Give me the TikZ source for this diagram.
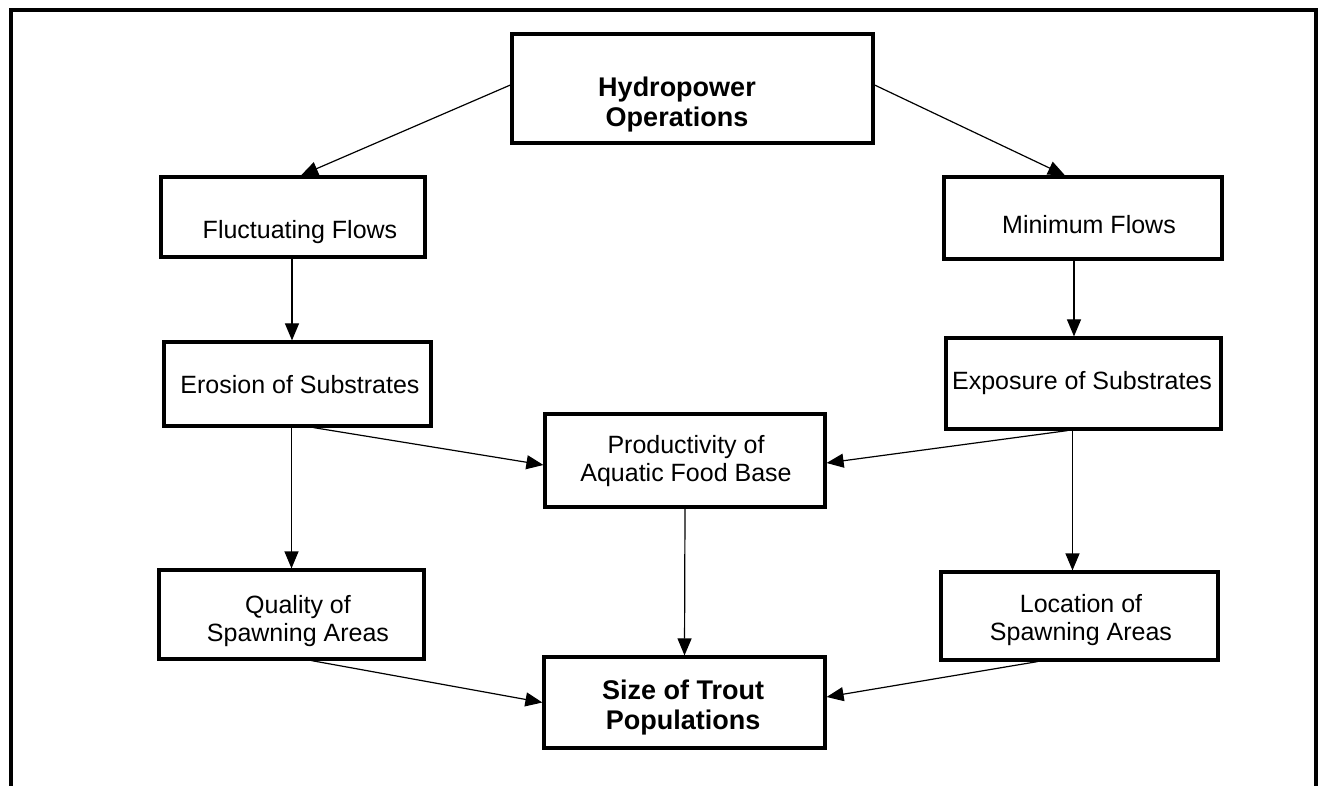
\documentclass[tikz,border=0pt]{standalone}
\usepackage{fontspec}
\setmainfont{Liberation Sans}
\usetikzlibrary{arrows.meta,calc}
\tikzset{
  box/.style={draw=black, line width=1.6pt, rectangle, inner sep=0pt},
  txt/.style={align=center, inner sep=0pt, font=\fontsize{12.5}{14}\selectfont},
  btxt/.style={align=center, inner sep=0pt, font=\fontsize{13.5}{15}\selectfont\bfseries},
  conn/.style={draw=black, line width=0.6pt, -{Triangle[length=8.5pt,width=7pt]}},
  frame/.style={draw=black, line width=1.6pt}
}
\begin{document}
\begin{tikzpicture}[x=0.5pt,y=-0.5pt]
\useasboundingbox (0,0) rectangle (1324,786);
% outer frame
\coordinate (fbl) at (11,790);
\coordinate (ftl) at (11,10);
\coordinate (ftr) at (1316,10);
\coordinate (fbr) at (1316,790);
\draw[frame] (fbl) -- (ftl) -- (ftr) -- (fbr);
% boxes
\node[box, minimum width=180.5pt, minimum height=54.5pt] (hydro) at (692.5,88.5) {};
\node[box, minimum width=132pt, minimum height=40pt] (fluct) at (293,217) {};
\node[box, minimum width=139pt, minimum height=41pt] (minf) at (1083,218) {};
\node[box, minimum width=133.5pt, minimum height=42pt] (eros) at (297.5,384) {};
\node[box, minimum width=137.5pt, minimum height=45.5pt] (expo) at (1083.5,383.5) {};
\node[box, minimum width=140pt, minimum height=46.5pt] (prod) at (685,460.5) {};
\node[box, minimum width=132.5pt, minimum height=44.5pt] (qual) at (291.5,614.5) {};
\node[box, minimum width=138.5pt, minimum height=44pt] (loc) at (1079.5,616) {};
\node[box, minimum width=140.5pt, minimum height=45.5pt] (size) at (684.5,702.5) {};
% texts
\node[btxt] (thydro) at (677,105) {Hydropower\\Operations};
\node[txt] (tfluct) at (300,232) {Fluctuating Flows};
\node[txt] (tminf) at (1089,225) {Minimum Flows};
\node[txt] (teros) at (300,385) {Erosion of Substrates};
\node[txt] (texpo) at (1082,383) {Exposure of Substrates};
\node[txt] (tprod) at (686,461) {Productivity of\\Aquatic Food Base};
\node[txt] (tqual) at (298,621) {Quality of\\Spawning Areas};
\node[txt] (tloc) at (1081,620) {Location of\\Spawning Areas};
\node[btxt] (tsize) at (683,708) {Size of Trout\\Populations};
% connectors
\draw[conn] ([yshift=1.75pt]hydro.west) -- ([xshift=4pt]fluct.north);
\draw[conn] ([yshift=1.75pt]hydro.east) -- ([xshift=-9pt]minf.north);
\draw[conn] ([xshift=-0.5pt]fluct.south) -- ([xshift=-0.5pt]fluct.south |- eros.north);
\draw[conn] ([xshift=-4.5pt]minf.south) -- ([xshift=-4.5pt]minf.south |- expo.north);
\draw[conn] ([xshift=-3pt]eros.south) -- ([xshift=-3pt]eros.south |- qual.north);
\draw[conn] ([xshift=-5.5pt]expo.south) -- ([xshift=-5.5pt]expo.south |- loc.north);
\draw[conn] ([xshift=8pt]eros.south) -- ([yshift=-2.25pt]prod.west);
\draw[conn] ([xshift=-8pt]expo.south) -- ([yshift=-1.25pt]prod.east);
\draw[conn] (prod.south) -- (size.north);
\draw[conn] ([xshift=10pt]qual.south) -- (size.west);
\draw[conn] ([xshift=-21pt]loc.south) -- ([yshift=2.75pt]size.east);
\end{tikzpicture}
\end{document}
